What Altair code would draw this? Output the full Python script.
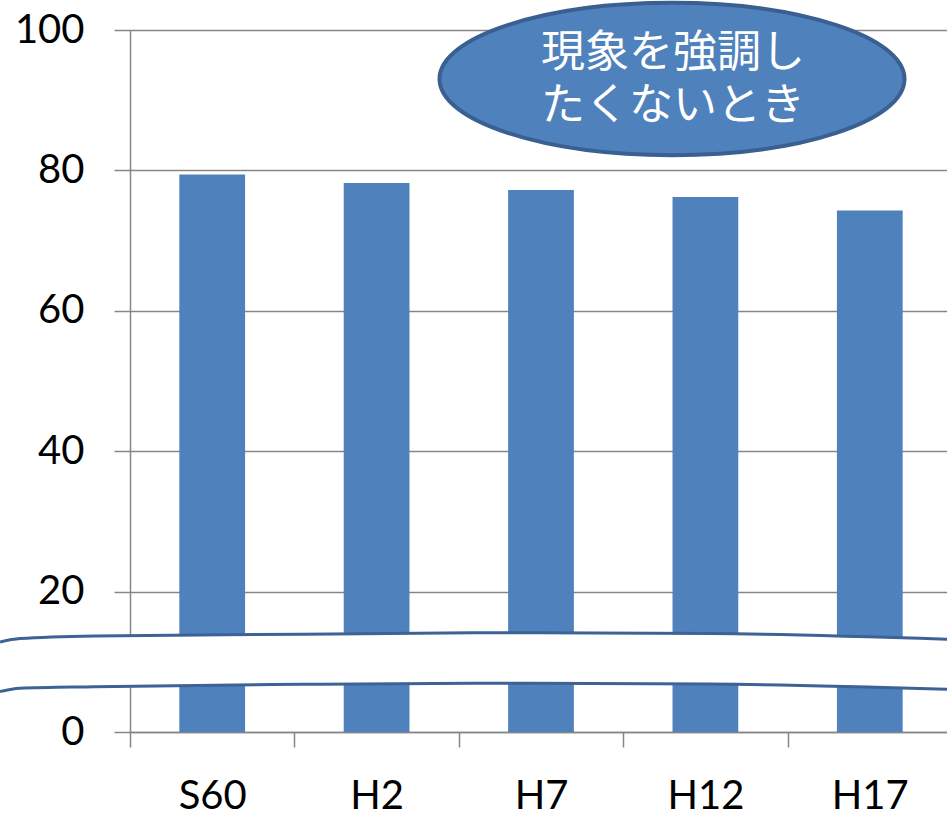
import altair as alt
import pandas as pd

# Bar values per survey year
categories = ["S60", "H2", "H7", "H12", "H17"]
values = [79.4, 78.2, 77.2, 76.2, 74.3]
y_ticks = [0, 20, 40, 60, 80, 100]

# Axis-break ornament: position across the chart (0..1) and the y value of each edge
break_t = [0.0, 0.021, 0.1, 0.32, 0.5, 0.75, 1.0]
break_upper = [12.82, 13.31, 13.68, 13.92, 14.13, 14.02, 13.21]
break_lower = [5.75, 6.22, 6.44, 6.79, 6.94, 6.82, 6.08]

note_lines = ["現象を強調し", "たくないとき"]

bars_df = pd.DataFrame({"year": categories, "value": values})
break_df = pd.DataFrame({"t": break_t, "upper": break_upper, "lower": break_lower})
note_df = pd.DataFrame({"k": [0]})

y_scale = alt.Scale(domain=[0, 100], nice=False, zero=True)
step = 822 / len(categories)

bars = alt.Chart(bars_df).mark_bar(color="#4F81BD").encode(
    x=alt.X(
        "year:N",
        sort=categories,
        scale=alt.Scale(range=[0, 822], paddingInner=0.6, paddingOuter=0.3),
        axis=alt.Axis(
            title=None,
            tickOffset=-step / 2,
            labelOffset=step / 2,
            tickSize=15,
            labelPadding=29,
            labelAngle=0,
            grid=False,
        ),
    ),
    y=alt.Y(
        "value:Q",
        scale=y_scale,
        axis=alt.Axis(
            title=None,
            values=y_ticks,
            tickSize=16,
            labelPadding=30,
            grid=True,
        ),
    ),
)

break_x = alt.X("t:Q", scale=alt.Scale(domain=[0, 1], range=[-130, 817]), axis=None)

band_area = alt.Chart(break_df).mark_area(
    color="white", interpolate="monotone", clip=False
).encode(
    x=break_x,
    y=alt.Y("lower:Q", scale=y_scale),
    y2="upper:Q",
)

band_top = alt.Chart(break_df).mark_line(
    color="#3D6295", strokeWidth=3, interpolate="monotone", clip=False
).encode(x=break_x, y=alt.Y("upper:Q", scale=y_scale))

band_bottom = alt.Chart(break_df).mark_line(
    color="#3D6295", strokeWidth=3, interpolate="monotone", clip=False
).encode(x=break_x, y=alt.Y("lower:Q", scale=y_scale))

# Ellipse callout (unit-width ellipse path, scaled by size)
r = 0.3276
k = 0.5523
ellipse_path = (
    f"M-1,0 C-1,{-k*r:.4f} {-k:.4f},{-r:.4f} 0,{-r:.4f} "
    f"C{k:.4f},{-r:.4f} 1,{-k*r:.4f} 1,0 "
    f"C1,{k*r:.4f} {k:.4f},{r:.4f} 0,{r:.4f} "
    f"C{-k:.4f},{r:.4f} -1,{k*r:.4f} -1,0 Z"
)

bubble = alt.Chart(note_df).mark_point(
    shape=ellipse_path,
    filled=True,
    fill="#4F81BD",
    stroke="#3A5F91",
    strokeWidth=4,
    opacity=1,
    size=465 * 465,
    clip=False,
).encode(x=alt.value(542), y=alt.value(49))

bubble_text = alt.Chart(note_df).mark_text(
    text=note_lines,
    font="Noto Sans CJK JP",
    fontSize=44,
    lineHeight=53,
    color="white",
    align="center",
    baseline="middle",
    clip=False,
).encode(x=alt.value(543), y=alt.value(24))

chart = (
    alt.layer(bars, band_area, band_top, band_bottom, bubble, bubble_text)
    .resolve_scale(x="independent")
    .properties(
        width=817,
        height=702,
        autosize=alt.AutoSizeParams(type="none"),
        padding={"left": 130, "top": 30, "right": 0, "bottom": 81},
        background="white",
    )
    .configure_view(stroke=None)
    .configure_axis(
        domainColor="#868686",
        tickColor="#868686",
        gridColor="#868686",
        domainWidth=1.5,
        tickWidth=1.5,
        gridWidth=1.5,
        labelFont="Lato",
        labelFontSize=40,
        labelColor="black",
    )
)

chart.save("out.html", embed_options={"renderer": "svg", "actions": False})
